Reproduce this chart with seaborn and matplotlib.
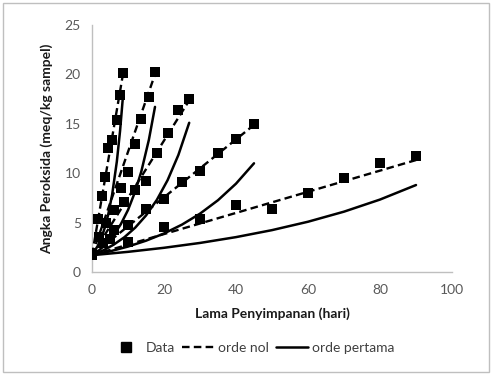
import numpy as np
import pandas as pd
import matplotlib
matplotlib.use("Agg")
import matplotlib.pyplot as plt
import seaborn as sns
from matplotlib.lines import Line2D
from matplotlib.patches import Rectangle

# ---- data ----
series_names = ["A", "B", "C", "D", "E"]
x_A = [0, 1.7, 2.8, 3.6, 4.5, 5.6, 6.9, 7.8, 8.6]
y_A = [1.7, 5.4, 7.7, 9.6, 12.6, 13.4, 15.4, 17.9, 20.1]
x_B = [0, 2, 4, 6, 8, 10, 12, 13.7, 15.8, 17.5]
y_B = [1.7, 3.5, 5.0, 6.3, 8.5, 10.1, 13.0, 15.5, 17.7, 20.2]
x_C = [0, 3, 6, 9, 12, 15, 18, 21, 24, 27]
y_C = [1.7, 2.9, 4.3, 7.1, 8.3, 9.2, 12.0, 14.1, 16.4, 17.5]
x_D = [0, 5, 10, 15, 20, 25, 30, 35, 40, 45]
y_D = [1.7, 3.3, 4.8, 6.4, 7.4, 9.1, 10.2, 12.0, 13.5, 15.0]
x_E = [0, 10, 20, 30, 40, 50, 60, 70, 80, 90]
y_E = [1.7, 3.0, 4.6, 5.4, 6.8, 6.4, 8.0, 9.5, 11.0, 11.7]

# fitted kinetic parameters
C0 = 1.7
k_zero = [2.13, 1.046, 0.58, 0.293, 0.107]      # orde nol: C = C0 + k t
k_first = [0.273, 0.1306, 0.0809, 0.0415, 0.01827]  # orde pertama: C = C0 exp(k t)

xs = [x_A, x_B, x_C, x_D, x_E]
ys = [y_A, y_B, y_C, y_D, y_E]

data_rows = []
fit_rows = []
for name, xv, yv, kz, kf in zip(series_names, xs, ys, k_zero, k_first):
    for x, y in zip(xv, yv):
        data_rows.append({"series": name, "t": x, "C": y})
    xa = np.asarray(xv, dtype=float)
    for x, y in zip(xa, C0 + kz * xa):
        fit_rows.append({"series": name, "model": "orde nol", "t": x, "C": y})
    for x, y in zip(xa, C0 * np.exp(kf * xa)):
        fit_rows.append({"series": name, "model": "orde pertama", "t": x, "C": y})

df_data = pd.DataFrame(data_rows)
df_fit = pd.DataFrame(fit_rows)

# ---- plot ----
sns.set_theme(style="white")
plt.rcParams["font.family"] = ["Lato", "DejaVu Sans"]

fig = plt.figure(figsize=(4.92, 3.75), dpi=100)
ax = fig.add_axes([92 / 492, 1 - 272 / 375, 360 / 492, 247 / 375])

sns.lineplot(data=df_fit[df_fit.model == "orde pertama"], x="t", y="C",
             units="series", estimator=None, sort=False, color="black",
             linewidth=1.8, ax=ax, legend=False, zorder=2)
sns.lineplot(data=df_fit[df_fit.model == "orde nol"], x="t", y="C",
             units="series", estimator=None, sort=False, color="black",
             linewidth=1.7, ax=ax, legend=False, zorder=3,
             dashes=False)
for line in ax.get_lines()[len(series_names):]:
    line.set_dashes((3.2, 1.8))
sns.scatterplot(data=df_data, x="t", y="C", marker="s", color="black",
                s=42, edgecolor="black", linewidth=0, ax=ax, legend=False,
                zorder=4)

ax.set_xlim(0, 100)
ax.set_ylim(0, 25)
ax.set_xticks([0, 20, 40, 60, 80, 100])
ax.set_yticks([0, 5, 10, 15, 20, 25])
ax.tick_params(axis="both", length=0, labelsize=10, colors="#595959")
ax.tick_params(axis="x", pad=9)
ax.tick_params(axis="y", pad=8)
for s in ["top", "right"]:
    ax.spines[s].set_visible(False)
for s in ["left", "bottom"]:
    ax.spines[s].set_color("#bfbfbf")
    ax.spines[s].set_linewidth(1.0)
ax.set_xlabel("Lama Penyimpanan (hari)", fontsize=10, fontweight="bold",
              color="#1a1a1a", labelpad=8)
ax.set_ylabel("Angka Peroksida (meq/kg sampel)", fontsize=10,
              fontweight="bold", color="#1a1a1a", labelpad=8)

handles = [
    Line2D([], [], marker="s", color="black", linestyle="none", markersize=6.5),
    Line2D([], [], color="black", linewidth=1.7, dashes=(3.2, 1.8)),
    Line2D([], [], color="black", linewidth=1.8),
]
fig.legend(handles, ["Data", "orde nol", "orde pertama"], loc="center",
           bbox_to_anchor=(252 / 492, 1 - 348 / 375), ncol=3, frameon=False,
           fontsize=10, handlelength=2.3, columnspacing=0.5, handletextpad=0.3,
           labelcolor="#404040")

fig.patches.append(Rectangle((3 / 492, 3 / 375), 486 / 492, 369 / 375,
                             transform=fig.transFigure, fill=False,
                             edgecolor="#bfbfbf", linewidth=1.0))

fig.savefig("out.png", dpi=100)
